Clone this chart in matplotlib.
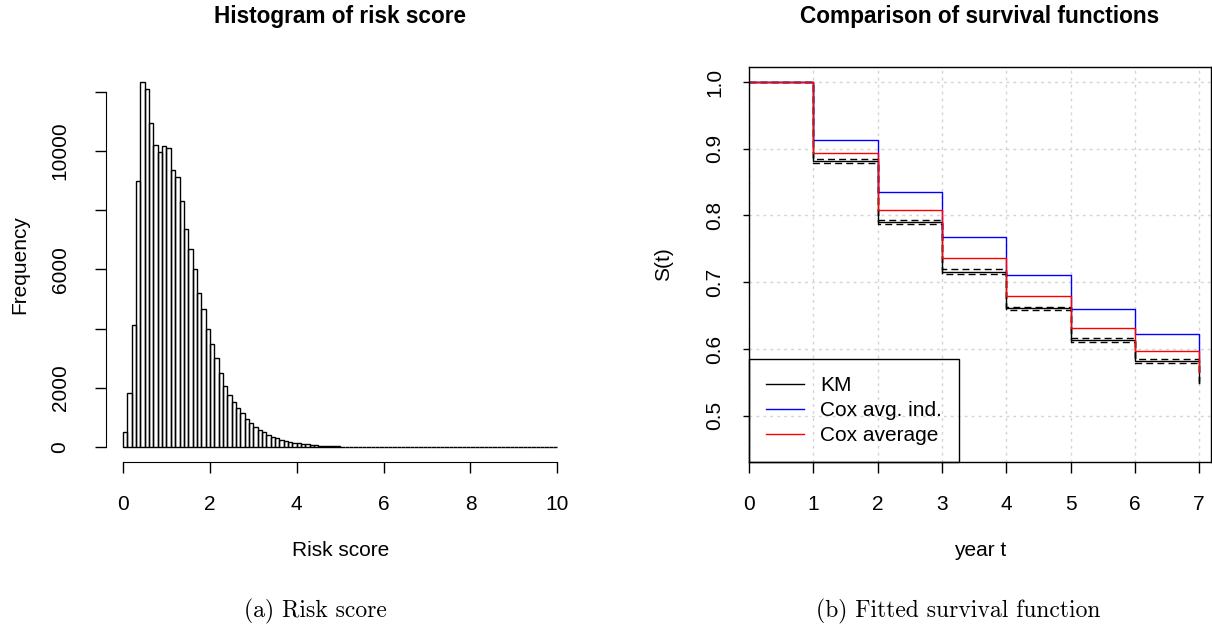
import numpy as np
import matplotlib.pyplot as plt

plt.rcParams['font.family'] = ['Liberation Sans', 'DejaVu Sans']

# Histogram counts, bins of width 0.1 from 0 to 10
bin_edges = np.linspace(0, 10, 101)
counts = [530, 1826, 4136, 8993, 12318, 12093, 10955, 10211, 9974, 10166,
          10109, 9365, 9106, 8306, 7348, 6683, 6018, 5218, 4666, 4001,
          3471, 3020, 2502, 2085, 1781, 1521, 1319, 1161, 958, 811,
          676, 586, 507, 417, 360, 304, 259, 225, 190, 158,
          135, 115, 100, 85, 72, 62, 52, 45, 38, 32,
          27, 23, 19, 16, 14, 12, 10, 8, 7, 6,
          5, 4, 4, 3, 3, 2, 2, 2, 2, 1,
          1, 1, 1, 1, 1, 0, 1, 0, 0, 1,
          0, 0, 0, 0, 0, 0, 0, 0, 0, 0,
          0, 0, 0, 0, 0, 0, 0, 0, 0, 0]

# Survival curves at yearly steps
years = [0, 1, 2, 3, 4, 5, 6, 7]
km = [1.0, 0.882, 0.7895, 0.716, 0.661, 0.614, 0.582, 0.549]
km_upper = [1.0, 0.885, 0.7925, 0.7196, 0.6625, 0.617, 0.585, 0.552]
km_lower = [1.0, 0.879, 0.787, 0.713, 0.6585, 0.611, 0.579, 0.546]
cox_avg_ind = [1.0, 0.9135, 0.835, 0.768, 0.7106, 0.6606, 0.623, 0.58]
cox_average = [1.0, 0.8935, 0.8075, 0.737, 0.680, 0.632, 0.5976, 0.565]

FS = 15
W, H = 1212, 627
fig = plt.figure(figsize=(W / 100, H / 100), dpi=100)

def box(x0, x1, y0, y1):
    return [x0 / W, 1 - y1 / H, (x1 - x0) / W, (y1 - y0) / H]

# ---- Left: histogram ----
ax1 = fig.add_axes(box(105.7, 574.7, 67, 462))
ax1.bar(bin_edges[:-1], counts, width=0.1, align='edge', fill=False,
        edgecolor='black', linewidth=1.0)
ax1.set_xlim(-0.4, 10.4)
ax1.set_ylim(-493, 12827)
for s in ['top', 'right']:
    ax1.spines[s].set_visible(False)
ax1.spines['left'].set_bounds(0, 12000)
ax1.spines['bottom'].set_bounds(0, 10)
ax1.set_xticks([0, 2, 4, 6, 8, 10])
ax1.set_yticks([0, 2000, 4000, 6000, 8000, 10000, 12000])
ax1.set_yticklabels(['0', '2000', '', '6000', '', '10000', ''],
                    rotation=90, va='center')
ax1.tick_params(axis='both', direction='out', length=8, width=1,
                labelsize=FS)
ax1.tick_params(axis='x', pad=16)
ax1.tick_params(axis='y', pad=18)
ax1.text(0.5, 1.127, 'Histogram of risk score', transform=ax1.transAxes,
         fontsize=16.3, fontweight='bold', ha='center', va='center')
ax1.set_xlabel('Risk score', fontsize=FS)
ax1.set_ylabel('Frequency', fontsize=FS)
ax1.xaxis.label.set_va('center')
ax1.yaxis.label.set_va('center')
ax1.xaxis.set_label_coords(0.5, -0.223)
ax1.yaxis.set_label_coords(-0.183, 0.5)

# ---- Right: survival functions ----
ax2 = fig.add_axes(box(749, 1211, 67, 462))
ax2.set_xlim(0, 7.185)
ax2.set_ylim(0.4306, 1.0225)
ax2.set_xticks(years)
ax2.set_yticks([0.5, 0.6, 0.7, 0.8, 0.9, 1.0])
ax2.grid(True, color='lightgray', linestyle=(0, (2, 3)), linewidth=1)
ax2.set_axisbelow(True)

ax2.step(years, km, where='post', color='black', linewidth=1.0, label='KM')
ax2.step(years, km_upper, where='post', color='black', linewidth=1.0,
         linestyle=(0, (5, 3)))
ax2.step(years, km_lower, where='post', color='black', linewidth=1.0,
         linestyle=(0, (5, 3)))
ax2.step(years, cox_avg_ind, where='post', color='blue', linewidth=1.0,
         label='Cox avg. ind.')
ax2.step(years, cox_average, where='post', color='red', linewidth=1.0,
         label='Cox average')

ax2.set_yticklabels(['0.5', '0.6', '0.7', '0.8', '0.9', '1.0'],
                    rotation=90, va='center')
ax2.tick_params(axis='both', direction='out', width=1, labelsize=FS)
ax2.tick_params(axis='x', length=8, pad=16)
ax2.tick_params(axis='y', length=4, pad=14)
for s in ax2.spines.values():
    s.set_linewidth(1)
ax2.text(0.5, 1.127, 'Comparison of survival functions',
         transform=ax2.transAxes, fontsize=16.3, fontweight='bold',
         ha='center', va='center')
ax2.set_xlabel('year t', fontsize=FS)
ax2.set_ylabel('S(t)', fontsize=FS)
ax2.xaxis.label.set_va('center')
ax2.yaxis.label.set_va('center')
ax2.xaxis.set_label_coords(0.5, -0.223)
ax2.yaxis.set_label_coords(-0.186, 0.5)

leg = ax2.legend(loc='lower left', borderaxespad=0, fontsize=FS,
                 fancybox=False, edgecolor='black', framealpha=1,
                 handlelength=1.83, handletextpad=0.8, labelspacing=0.3,
                 borderpad=0.8)
leg.get_frame().set_facecolor('none')
leg.get_frame().set_linewidth(1)

# Captions
cap_font = ['cmr10', 'DejaVu Serif']
fig.text(315 / W, 1 - 617 / H, '(a) Risk score', family=cap_font,
         fontsize=17, ha='center', va='baseline')
fig.text(958 / W, 1 - 617 / H, '(b) Fitted survival function',
         family=cap_font, fontsize=17, ha='center', va='baseline')

fig.savefig('out.png', dpi=100)
